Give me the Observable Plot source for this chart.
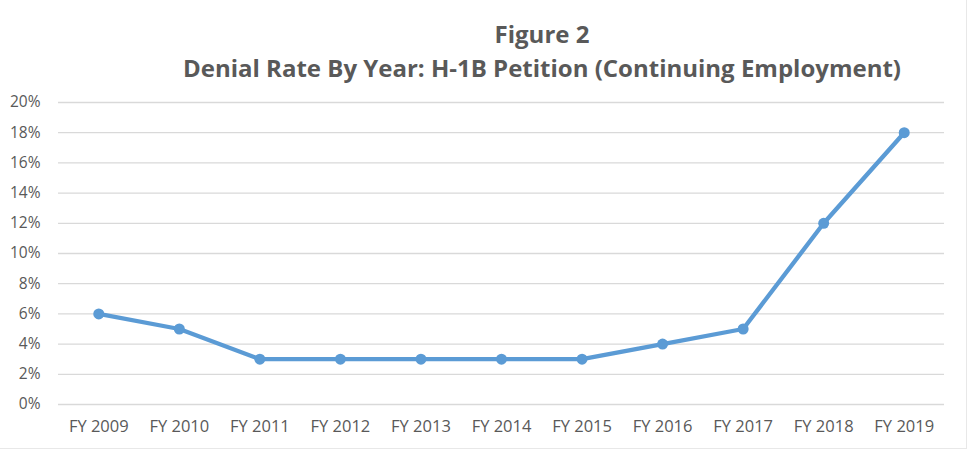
<!DOCTYPE html>
<html>
<head>
<meta charset="utf-8">
<script src="https://cdn.jsdelivr.net/npm/d3@7"></script>
<script src="https://cdn.jsdelivr.net/npm/@observablehq/plot@0.6"></script>
<style>
  html, body { margin: 0; padding: 0; background: #fff; }
  #wrap { width: 966px; height: 448px; border-right: 1px solid #e8e8e8; border-bottom: 1px solid #e8e8e8; position: relative; overflow: hidden; font-family: "Open Sans", sans-serif; }
  #titles { height: 84px; position: relative; color: #595959; font-weight: bold; }
  #t1 { position: absolute; left: 0; width: 1084px; text-align: center; top: 17px; font-size: 24px; }
  #t2 { position: absolute; left: 0; width: 1084px; text-align: center; top: 51px; font-size: 24px; }
</style>
</head>
<body>
<div id="wrap">
  <div id="titles">
    <div id="t1">Figure 2</div>
    <div id="t2">Denial Rate By Year: H-1B Petition (Continuing Employment)</div>
  </div>
  <div id="chart"></div>
</div>
<script>
const years = ["FY 2009","FY 2010","FY 2011","FY 2012","FY 2013","FY 2014","FY 2015","FY 2016","FY 2017","FY 2018","FY 2019"];
const denialRate = [6, 5, 3, 3, 3, 3, 3, 4, 5, 12, 18];
const yTicks = [0, 2, 4, 6, 8, 10, 12, 14, 16, 18, 20];

const data = years.map((y, i) => ({year: y, rate: denialRate[i]}));

const chart = Plot.plot({
  width: 966,
  height: 364,
  marginTop: 18,
  marginBottom: 44,
  marginLeft: 58,
  marginRight: 22,
  style: {fontFamily: "Open Sans, sans-serif", color: "#595959", background: "#fff"},
  x: {type: "point", domain: years, padding: 0.5, round: false, label: null},
  y: {domain: [0, 20], ticks: yTicks, label: null},
  marks: [
    Plot.gridY(yTicks, {stroke: "#d9d9d9", strokeOpacity: 1, strokeWidth: 1.3}),
    Plot.axisY(yTicks, {tickSize: 0, tickPadding: 18, tickFormat: d => d + "%", fill: "#595959", fontSize: 15.5}),
    Plot.axisX(years, {tickSize: 0, tickPadding: 16, fill: "#595959", fontSize: 16.5}),
    Plot.line(data, {x: "year", y: "rate", stroke: "#5b9bd5", strokeWidth: 4.3, strokeLinejoin: "round"}),
    Plot.dot(data, {x: "year", y: "rate", fill: "#5b9bd5", r: 5.5, stroke: "none"})
  ]
});
document.getElementById("chart").appendChild(chart);
</script>
</body>
</html>
